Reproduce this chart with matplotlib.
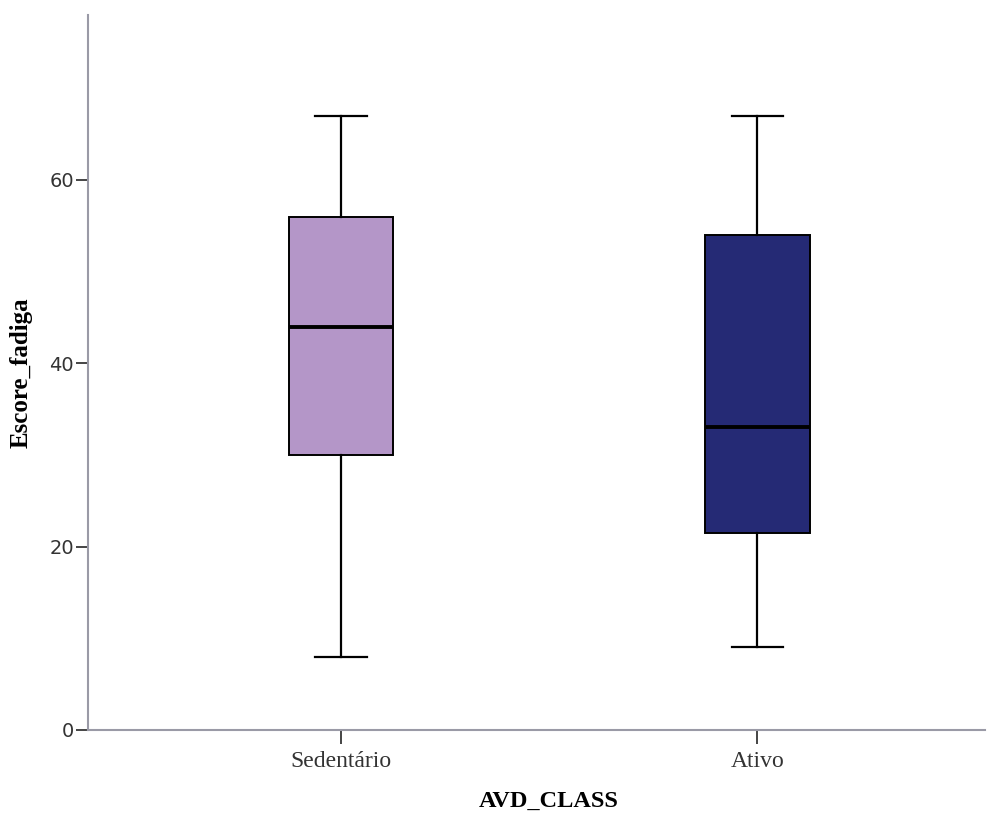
import matplotlib
matplotlib.use('Agg')
import matplotlib.pyplot as plt

# box stats
groups   = ['Sedentário', 'Ativo']
whislo   = [8, 9]
q1       = [30, 21.5]
medians  = [44, 33]
q3       = [56, 54]
whishi   = [67, 67]
colors   = ['#b496c8', '#252a75']

stats = [dict(label=g, whislo=lo, q1=a, med=m, q3=b, whishi=hi)
         for g, lo, a, m, b, hi in zip(groups, whislo, q1, medians, q3, whishi)]

fig = plt.figure(figsize=(9.98, 8.14), dpi=100)
ax = fig.add_axes([0.0882, 0.1032, 0.899, 0.8784])

bp = ax.bxp(stats, positions=[1, 2], widths=0.252, capwidths=0.123,
            showfliers=False, patch_artist=True,
            boxprops=dict(edgecolor='black', linewidth=1.4),
            medianprops=dict(color='black', linewidth=2.8),
            whiskerprops=dict(color='black', linewidth=1.6),
            capprops=dict(color='black', linewidth=1.6))
for patch, c in zip(bp['boxes'], colors):
    patch.set_facecolor(c)

ax.set_xlim(0.392, 2.548)
ax.set_ylim(0, 78)
ax.set_yticks([0, 20, 40, 60])

for side in ['top', 'right']:
    ax.spines[side].set_visible(False)
for side in ['left', 'bottom']:
    ax.spines[side].set_color('#9a9aa6')
    ax.spines[side].set_linewidth(1.5)

ax.tick_params(axis='y', length=9, width=1.4, color='#444444', pad=1,
               labelsize=14, labelcolor='#333333')
ax.tick_params(axis='x', length=10, width=1.4, color='#444444', pad=5,
               labelsize=17, labelcolor='#333333')
for lbl in ax.get_xticklabels():
    lbl.set_family('Liberation Serif')
for lbl in ax.get_yticklabels():
    lbl.set_family(['Liberation Sans Narrow', 'DejaVu Sans'])

ax.set_xlabel('AVD_CLASS', family='Liberation Serif', fontweight='bold',
              fontsize=17.5)
ax.set_ylabel('Escore_fadiga', family='Liberation Serif', fontweight='bold',
              fontsize=18)
ax.xaxis.set_label_coords(0.513, -0.085)
ax.yaxis.set_label_coords(-0.062, 0.5)

fig.savefig('out.png', dpi=100)
